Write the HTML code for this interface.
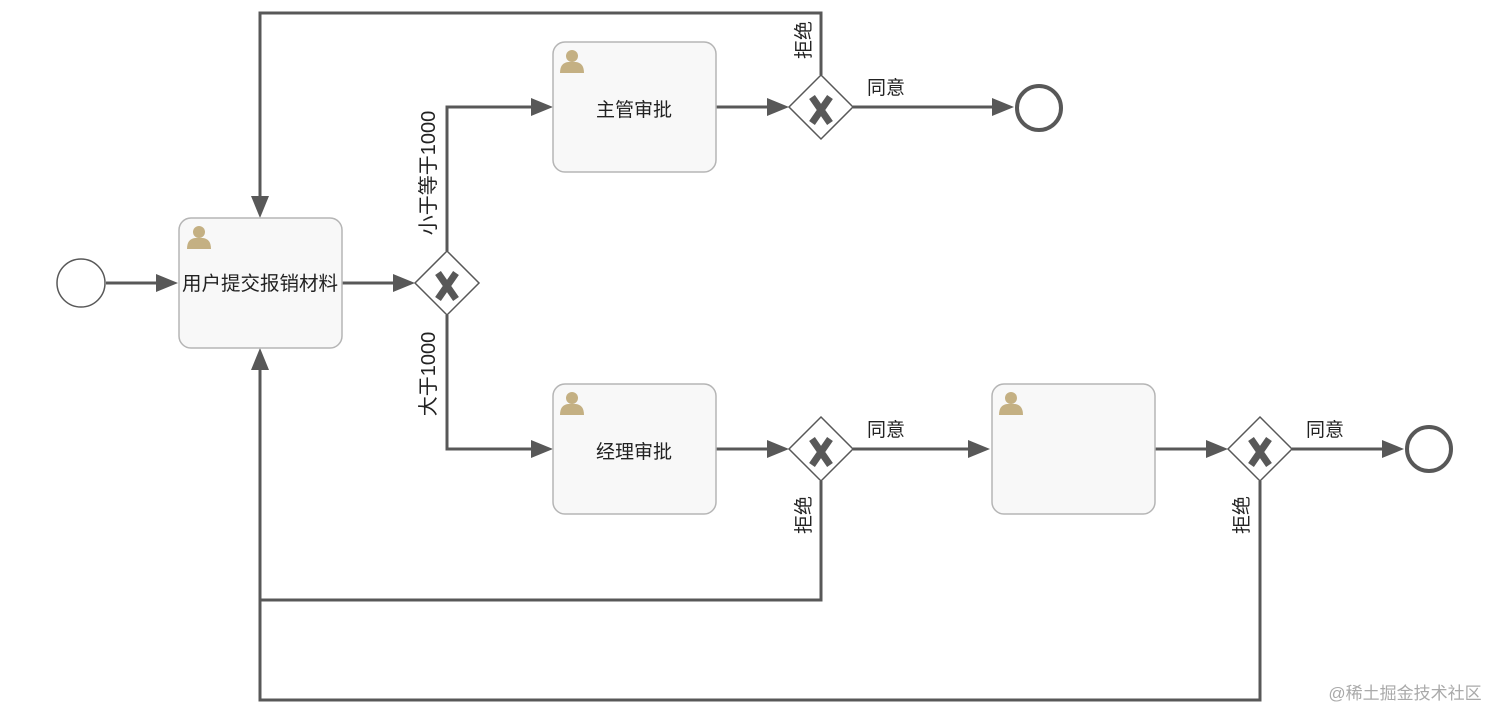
<!DOCTYPE html>
<html><head><meta charset="utf-8"><style>
html,body{margin:0;padding:0;background:#fff;}
svg{display:block;}
text{font-family:"Liberation Sans","Noto Sans CJK SC",sans-serif;fill:#222;}
</style></head><body>
<svg width="1512" height="727" viewBox="0 0 1512 727" xmlns="http://www.w3.org/2000/svg">
<defs>
<symbol id="user" viewBox="0 0 26 26">
<circle cx="13" cy="8" r="6" fill="#c4b083"/>
<path d="M1 25 Q1 15 9 14 L17 14 Q25 15 25 25 Z" fill="#c4b083"/>
</symbol>
<g id="gx"><path d="M-9,-13 L9,13 M9,-13 L-9,13" stroke="#585858" stroke-width="7" fill="none"/></g>
</defs>
<g stroke="#585858" stroke-width="3" fill="none">
<line x1="106" y1="283" x2="160" y2="283"/>
<line x1="342" y1="283" x2="397" y2="283"/>
<polyline points="447,251 447,107 533,107"/>
<polyline points="447,315 447,449 533,449"/>
<line x1="716" y1="107" x2="771" y2="107"/>
<line x1="716" y1="449" x2="771" y2="449"/>
<line x1="853" y1="107" x2="996" y2="107"/>
<line x1="853" y1="449" x2="972" y2="449"/>
<line x1="1155" y1="449" x2="1210" y2="449"/>
<line x1="1292" y1="449" x2="1386" y2="449"/>
<polyline points="821,75 821,13 260,13 260,198"/>
<polyline points="821,481 821,600 260,600"/>
<polyline points="1260,481 1260,700 260,700 260,368"/>
</g>
<g fill="#585858">
<polygon points="178,283 156,274 156,292"/>
<polygon points="415,283 393,274 393,292"/>
<polygon points="553,107 531,98 531,116"/>
<polygon points="553,449 531,440 531,458"/>
<polygon points="789,107 767,98 767,116"/>
<polygon points="789,449 767,440 767,458"/>
<polygon points="1014,107 992,98 992,116"/>
<polygon points="990,449 968,440 968,458"/>
<polygon points="1228,449 1206,440 1206,458"/>
<polygon points="1404,449 1382,440 1382,458"/>
<polygon points="260,218 251,196 269,196"/>
<polygon points="260,348 251,370 269,370"/>
</g>
<circle cx="81" cy="283" r="24" fill="#fff" stroke="#585858" stroke-width="1.5"/>
<circle cx="1039" cy="108" r="22" fill="#fff" stroke="#585858" stroke-width="4"/>
<circle cx="1429" cy="449" r="22" fill="#fff" stroke="#585858" stroke-width="4"/>
<g fill="#f8f8f8" stroke="#b5b5b5" stroke-width="1.5">
<rect x="179" y="218" width="163" height="130" rx="12"/>
<rect x="553" y="42" width="163" height="130" rx="12"/>
<rect x="553" y="384" width="163" height="130" rx="12"/>
<rect x="992" y="384" width="163" height="130" rx="12"/>
</g>
<use href="#user" x="186" y="224" width="26" height="26"/>
<use href="#user" x="559" y="48" width="26" height="26"/>
<use href="#user" x="559" y="390" width="26" height="26"/>
<use href="#user" x="998" y="390" width="26" height="26"/>
<text x="260" y="290" font-size="19.5" text-anchor="middle">用户提交报销材料</text>
<text x="634" y="116" font-size="19" text-anchor="middle">主管审批</text>
<text x="634" y="458" font-size="19" text-anchor="middle">经理审批</text>
<g fill="#fff" stroke="#585858" stroke-width="1.5">
<polygon points="447,251 479,283 447,315 415,283"/>
<polygon points="821,75 853,107 821,139 789,107"/>
<polygon points="821,417 853,449 821,481 789,449"/>
<polygon points="1260,417 1292,449 1260,481 1228,449"/>
</g>
<use href="#gx" x="447" y="286"/>
<use href="#gx" x="821" y="110"/>
<use href="#gx" x="821" y="452"/>
<use href="#gx" x="1260" y="452"/>
<g font-size="19">
<text x="886" y="94" text-anchor="middle">同意</text>
<text x="886" y="436" text-anchor="middle">同意</text>
<text x="1325" y="436" text-anchor="middle">同意</text>
<text transform="translate(810,40) rotate(-90)" text-anchor="middle">拒绝</text>
<text transform="translate(810,515) rotate(-90)" text-anchor="middle">拒绝</text>
<text transform="translate(1248,515) rotate(-90)" text-anchor="middle">拒绝</text>
</g>
<g font-size="20">
<text transform="translate(435,173) rotate(-90)" text-anchor="middle">小于等于1000</text>
<text transform="translate(435,374) rotate(-90)" text-anchor="middle">大于1000</text>
</g>
<text x="1405" y="699" font-size="17" text-anchor="middle" style="fill:#aaa">@稀土掘金技术社区</text>
</svg>
</body></html>
